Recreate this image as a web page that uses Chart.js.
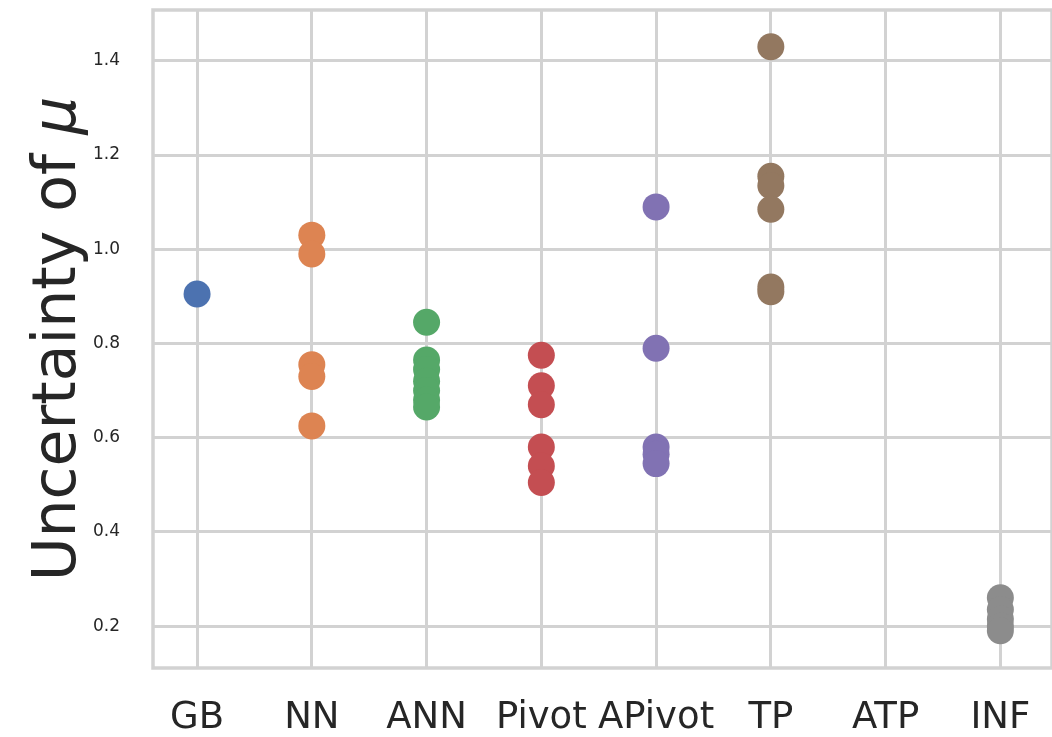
<!DOCTYPE html>
<html>
<head>
<meta charset="utf-8">
<script src="https://cdn.jsdelivr.net/npm/chart.js@4.4.0/dist/chart.umd.min.js"></script>
<style>
  html, body { margin: 0; padding: 0; background: #fff; overflow: hidden; }
  #wrap { width: 1052px; height: 737px; }
  #chart { display: block; }
</style>
</head>
<body>
<div id="wrap"><canvas id="chart"></canvas></div>
<script>
// categories along x, one strip per method
const categories = ['GB', 'NN', 'ANN', 'Pivot', 'APivot', 'TP', 'ATP', 'INF'];

// values
const gbValues = [0.905];
const nnValues = [1.03, 0.99, 0.755, 0.73, 0.625];
const annValues = [0.845, 0.765, 0.745, 0.72, 0.70, 0.68, 0.665];
const pivotValues = [0.775, 0.71, 0.67, 0.58, 0.54, 0.505];
const apivotValues = [1.09, 0.79, 0.58, 0.565, 0.545];
const tpValues = [1.43, 1.155, 1.135, 1.085, 0.92, 0.91];
const atpValues = [];
const infValues = [0.26, 0.235, 0.215, 0.20, 0.19];

const yTicks = [0.2, 0.4, 0.6, 0.8, 1.0, 1.2, 1.4];

// seaborn "deep" palette
const colors = ['#4C72B0', '#DD8452', '#55A868', '#C44E52', '#8172B3', '#937860', '#DA8BC3', '#8C8C8C'];

const allValues = [gbValues, nnValues, annValues, pivotValues, apivotValues, tpValues, atpValues, infValues];

const gridColor = '#d2d2d2';
const textColor = '#262626';

const datasets = allValues.map(function (vals, i) {
  return {
    label: categories[i],
    data: vals.map(v => ({ x: i, y: v })),
    backgroundColor: colors[i],
    borderColor: colors[i],
    borderWidth: 0,
    pointRadius: 13.5,
    pointHoverRadius: 13.5
  };
});

// frame around the plot area, like the axes box
const framePlugin = {
  id: 'frame',
  beforeDatasetsDraw(chart) {
    const a = chart.chartArea;
    const ctx = chart.ctx;
    ctx.save();
    ctx.strokeStyle = gridColor;
    ctx.lineWidth = 3.5;
    ctx.strokeRect(a.left, a.top, a.right - a.left, a.bottom - a.top);
    ctx.restore();
  }
};

// y title with an italic mu
const yTitlePlugin = {
  id: 'yTitle',
  afterDraw(chart) {
    const a = chart.chartArea;
    const ctx = chart.ctx;
    const part1 = 'Uncertainty of ';
    const part2 = 'μ';
    const size = 60;
    ctx.save();
    ctx.translate(75, (a.top + a.bottom) / 2);
    ctx.rotate(-Math.PI / 2);
    ctx.fillStyle = textColor;
    ctx.textBaseline = 'alphabetic';
    ctx.textAlign = 'left';
    ctx.font = size + 'px "DejaVu Sans"';
    const w1 = ctx.measureText(part1).width;
    ctx.font = 'italic ' + size + 'px "DejaVu Sans"';
    const w2 = ctx.measureText(part2).width;
    const start = -(w1 + w2) / 2;
    ctx.font = size + 'px "DejaVu Sans"';
    ctx.fillText(part1, start, 0);
    ctx.font = 'italic ' + size + 'px "DejaVu Sans"';
    ctx.fillText(part2, start + w1, 0);
    ctx.restore();
  }
};

// no extra room for overhanging labels
function noPadding(scale) {
  scale.paddingTop = 0;
  scale.paddingBottom = 0;
  scale.paddingLeft = 0;
  scale.paddingRight = 0;
}

new Chart(document.getElementById('chart'), {
  type: 'scatter',
  data: { datasets: datasets },
  options: {
    responsive: true,
    maintainAspectRatio: false,
    animation: false,
    layout: { autoPadding: false, padding: { top: 10, right: 0, bottom: 0, left: 0 } },
    plugins: {
      legend: { display: false },
      tooltip: { enabled: false }
    },
    scales: {
      x: {
        type: 'linear',
        min: -0.384,
        max: 7.45,
        afterBuildTicks: function (scale) {
          scale.ticks = categories.map((c, i) => ({ value: i }));
        },
        afterFit: function (scale) { scale.height = 69; noPadding(scale); },
        ticks: {
          autoSkip: false,
          maxRotation: 0,
          padding: 28,
          color: textColor,
          font: { family: 'DejaVu Sans', size: 37 },
          callback: function (v) { return categories[v]; }
        },
        grid: { color: gridColor, lineWidth: 3, drawTicks: false },
        border: { display: false }
      },
      y: {
        min: 0.111,
        max: 1.508,
        afterBuildTicks: function (scale) {
          scale.ticks = yTicks.map(v => ({ value: v }));
        },
        afterFit: function (scale) { scale.width = 153; noPadding(scale); },
        ticks: {
          padding: 33,
          color: textColor,
          font: { family: 'DejaVu Sans', size: 17 },
          callback: function (v) { return v.toFixed(1); }
        },
        grid: { color: gridColor, lineWidth: 3, drawTicks: false },
        border: { display: false }
      }
    }
  },
  plugins: [framePlugin, yTitlePlugin]
});
</script>
</body>
</html>
